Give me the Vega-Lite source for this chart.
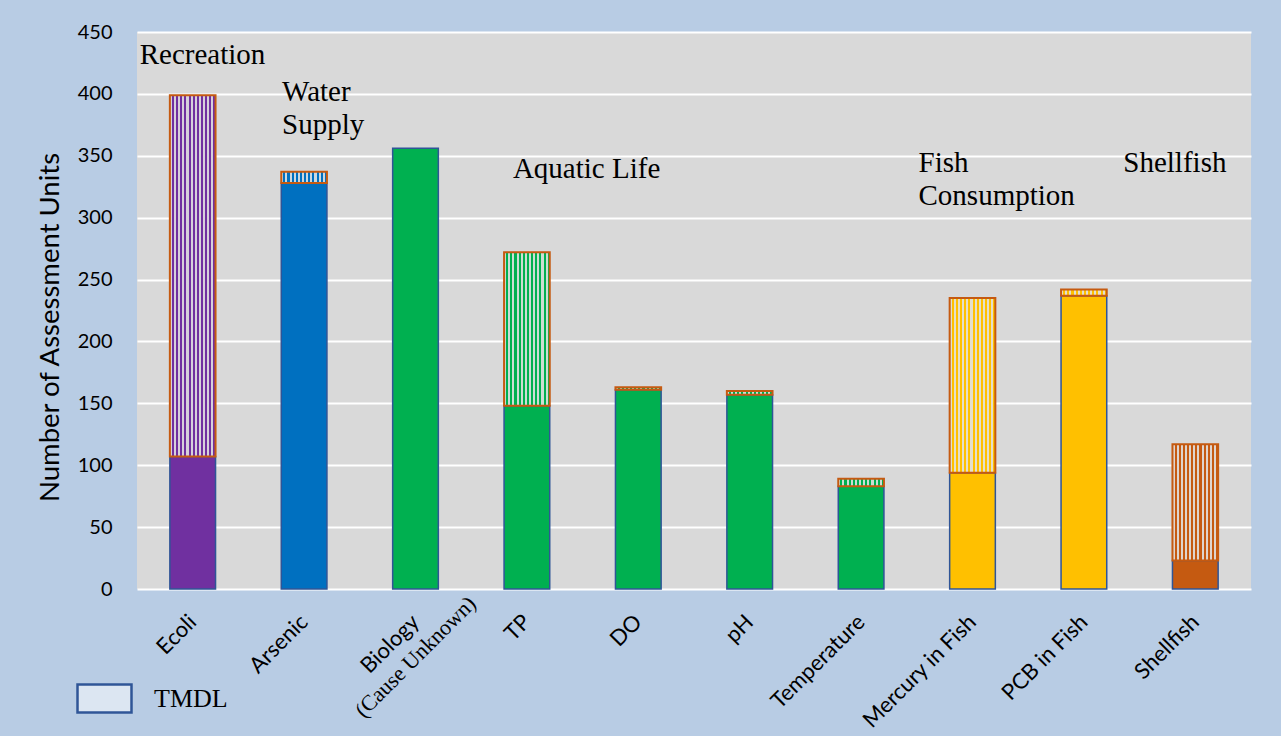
{
  "$schema": "https://vega.github.io/schema/vega-lite/v6.json",
  "width": 1114,
  "height": 557,
  "autosize": {"type": "none"},
  "padding": {"left": 137, "top": 32, "right": 30, "bottom": 147},
  "background": "#B8CCE4",
  "config": {
    "view": {"fill": "#D9D9D9", "stroke": null},
    "axis": {"labelColor": "#000000", "titleColor": "#000000"}
  },
  "data": {
    "values": [
      {"cause": "Ecoli", "use": "Recreation", "base": 107, "total": 399},
      {"cause": "Arsenic", "use": "Water Supply", "base": 328, "total": 337},
      {"cause": "Biology", "use": "Aquatic Life", "base": 356, "total": 356},
      {"cause": "TP", "use": "Aquatic Life", "base": 148, "total": 272},
      {"cause": "DO", "use": "Aquatic Life", "base": 161, "total": 163},
      {"cause": "pH", "use": "Aquatic Life", "base": 157, "total": 160},
      {"cause": "Temperature", "use": "Aquatic Life", "base": 83, "total": 89},
      {"cause": "Mercury in Fish", "use": "Fish Consumption", "base": 94, "total": 235},
      {"cause": "PCB in Fish", "use": "Fish Consumption", "base": 237, "total": 242},
      {"cause": "Shellfish", "use": "Shellfish", "base": 23, "total": 117}
    ]
  },
  "encoding": {
    "x": {
      "field": "cause",
      "type": "nominal",
      "sort": null,
      "scale": {"paddingInner": 0.59, "paddingOuter": 0.295},
      "axis": {
        "title": null,
        "labelAngle": -45,
        "labelFont": "Lato",
        "labelFontSize": 22,
        "labelPadding": 22,
        "labelOffset": -7,
        "domain": false,
        "ticks": false,
        "grid": false
      }
    }
  },
  "layer": [
    {
      "mark": {"type": "bar", "stroke": "#2F5597", "strokeWidth": 1.5},
      "encoding": {
        "y": {
          "field": "base",
          "type": "quantitative",
          "scale": {"domain": [0, 450], "nice": false},
          "axis": {
            "title": "Number of Assessment Units",
            "titleFont": "Lato",
            "titleFontSize": 27.5,
            "titleFontWeight": "normal",
            "titlePadding": 13,
            "titleY": 295,
            "labelFont": "Lato",
            "labelFontSize": 20,
            "labelPadding": 25,
            "values": [0, 50, 100, 150, 200, 250, 300, 350, 400, 450],
            "domain": false,
            "ticks": false,
            "grid": true,
            "gridColor": "#FFFFFF",
            "gridWidth": 2
          }
        },
        "color": {
          "field": "use",
          "type": "nominal",
          "scale": {
            "domain": ["Recreation", "Water Supply", "Aquatic Life", "Fish Consumption", "Shellfish"],
            "range": ["#7030A0", "#0070C0", "#00B050", "#FFC000", "#C55A11"]
          },
          "legend": null
        }
      }
    },
    {
      "transform": [{"filter": "datum.total > datum.base"}],
      "mark": {"type": "bar"},
      "encoding": {
        "y": {"field": "base", "type": "quantitative"},
        "y2": {"field": "total"},
        "color": {"field": "use", "type": "nominal", "legend": null}
      }
    },
    {
      "transform": [{"filter": "datum.total > datum.base"}],
      "mark": {
        "type": "bar",
        "stroke": "#C55A11",
        "strokeWidth": 2,
        "fill": {
          "gradient": "linear", "x1": 0, "y1": 0, "x2": 1, "y2": 0,
          "stops": [
            {"offset": 0, "color": "rgba(226,226,226,0.9)"},
            {"offset": 0.04545, "color": "rgba(226,226,226,0.9)"},
            {"offset": 0.04545, "color": "rgba(226,226,226,0)"},
            {"offset": 0.09091, "color": "rgba(226,226,226,0)"},
            {"offset": 0.09091, "color": "rgba(226,226,226,0.9)"},
            {"offset": 0.13636, "color": "rgba(226,226,226,0.9)"},
            {"offset": 0.13636, "color": "rgba(226,226,226,0)"},
            {"offset": 0.18182, "color": "rgba(226,226,226,0)"},
            {"offset": 0.18182, "color": "rgba(226,226,226,0.9)"},
            {"offset": 0.22727, "color": "rgba(226,226,226,0.9)"},
            {"offset": 0.22727, "color": "rgba(226,226,226,0)"},
            {"offset": 0.27273, "color": "rgba(226,226,226,0)"},
            {"offset": 0.27273, "color": "rgba(226,226,226,0.9)"},
            {"offset": 0.31818, "color": "rgba(226,226,226,0.9)"},
            {"offset": 0.31818, "color": "rgba(226,226,226,0)"},
            {"offset": 0.36364, "color": "rgba(226,226,226,0)"},
            {"offset": 0.36364, "color": "rgba(226,226,226,0.9)"},
            {"offset": 0.40909, "color": "rgba(226,226,226,0.9)"},
            {"offset": 0.40909, "color": "rgba(226,226,226,0)"},
            {"offset": 0.45455, "color": "rgba(226,226,226,0)"},
            {"offset": 0.45455, "color": "rgba(226,226,226,0.9)"},
            {"offset": 0.5, "color": "rgba(226,226,226,0.9)"},
            {"offset": 0.5, "color": "rgba(226,226,226,0)"},
            {"offset": 0.54545, "color": "rgba(226,226,226,0)"},
            {"offset": 0.54545, "color": "rgba(226,226,226,0.9)"},
            {"offset": 0.59091, "color": "rgba(226,226,226,0.9)"},
            {"offset": 0.59091, "color": "rgba(226,226,226,0)"},
            {"offset": 0.63636, "color": "rgba(226,226,226,0)"},
            {"offset": 0.63636, "color": "rgba(226,226,226,0.9)"},
            {"offset": 0.68182, "color": "rgba(226,226,226,0.9)"},
            {"offset": 0.68182, "color": "rgba(226,226,226,0)"},
            {"offset": 0.72727, "color": "rgba(226,226,226,0)"},
            {"offset": 0.72727, "color": "rgba(226,226,226,0.9)"},
            {"offset": 0.77273, "color": "rgba(226,226,226,0.9)"},
            {"offset": 0.77273, "color": "rgba(226,226,226,0)"},
            {"offset": 0.81818, "color": "rgba(226,226,226,0)"},
            {"offset": 0.81818, "color": "rgba(226,226,226,0.9)"},
            {"offset": 0.86364, "color": "rgba(226,226,226,0.9)"},
            {"offset": 0.86364, "color": "rgba(226,226,226,0)"},
            {"offset": 0.90909, "color": "rgba(226,226,226,0)"},
            {"offset": 0.90909, "color": "rgba(226,226,226,0.9)"},
            {"offset": 0.95455, "color": "rgba(226,226,226,0.9)"},
            {"offset": 0.95455, "color": "rgba(226,226,226,0)"},
            {"offset": 1, "color": "rgba(226,226,226,0)"}
          ]
        }
      },
      "encoding": {
        "y": {"field": "base", "type": "quantitative"},
        "y2": {"field": "total"}
      }
    },
    {
      "transform": [{"filter": "false"}],
      "mark": {"type": "bar", "fill": "#DCE6F2", "strokeWidth": 2.5},
      "encoding": {
        "y": {"field": "base", "type": "quantitative"},
        "stroke": {
          "datum": "TMDL",
          "type": "nominal",
          "scale": {"range": ["#2F5597"]},
          "legend": {
            "title": null,
            "orient": "none",
            "legendX": -61,
            "legendY": 638,
            "symbolType": "M-1,-0.52H1V0.52H-1Z",
            "symbolSize": 2916,
            "symbolFillColor": "#DCE6F2",
            "symbolStrokeWidth": 2.5,
            "labelFont": "Liberation Serif",
            "labelFontSize": 26,
            "labelColor": "#000000",
            "labelOffset": 21
          }
        }
      }
    },
    {
      "data": {"values": [{"note": "(Cause Unknown)"}]},
      "mark": {"type": "text", "font": "Liberation Serif", "fontSize": 22, "angle": -45, "align": "center", "baseline": "middle", "dx": -48, "dy": 48, "color": "#000000"},
      "encoding": {
        "x": {"datum": "Biology"},
        "y": {"datum": 0},
        "text": {"field": "note"}
      }
    },
    {
      "data": {"values": [{"label": "Recreation"}]},
      "mark": {"type": "text", "font": "Liberation Serif", "fontSize": 29, "align": "left", "baseline": "alphabetic", "dx": -53, "color": "#000000"},
      "encoding": {"x": {"datum": "Ecoli"}, "y": {"datum": 424}, "text": {"field": "label"}}
    },
    {
      "data": {"values": [{"label": ["Water", "Supply"]}]},
      "mark": {"type": "text", "font": "Liberation Serif", "fontSize": 29, "align": "left", "baseline": "alphabetic", "dx": -22, "lineHeight": 33, "color": "#000000"},
      "encoding": {"x": {"datum": "Arsenic"}, "y": {"datum": 394}, "text": {"field": "label"}}
    },
    {
      "data": {"values": [{"label": "Aquatic Life"}]},
      "mark": {"type": "text", "font": "Liberation Serif", "fontSize": 29, "align": "left", "baseline": "alphabetic", "dx": -14, "color": "#000000"},
      "encoding": {"x": {"datum": "TP"}, "y": {"datum": 332}, "text": {"field": "label"}}
    },
    {
      "data": {"values": [{"label": ["Fish", "Consumption"]}]},
      "mark": {"type": "text", "font": "Liberation Serif", "fontSize": 29, "align": "left", "baseline": "alphabetic", "dx": -54, "lineHeight": 33, "color": "#000000"},
      "encoding": {"x": {"datum": "Mercury in Fish"}, "y": {"datum": 337}, "text": {"field": "label"}}
    },
    {
      "data": {"values": [{"label": "Shellfish"}]},
      "mark": {"type": "text", "font": "Liberation Serif", "fontSize": 29, "align": "left", "baseline": "alphabetic", "dx": -72, "color": "#000000"},
      "encoding": {"x": {"datum": "Shellfish"}, "y": {"datum": 337}, "text": {"field": "label"}}
    }
  ]
}
